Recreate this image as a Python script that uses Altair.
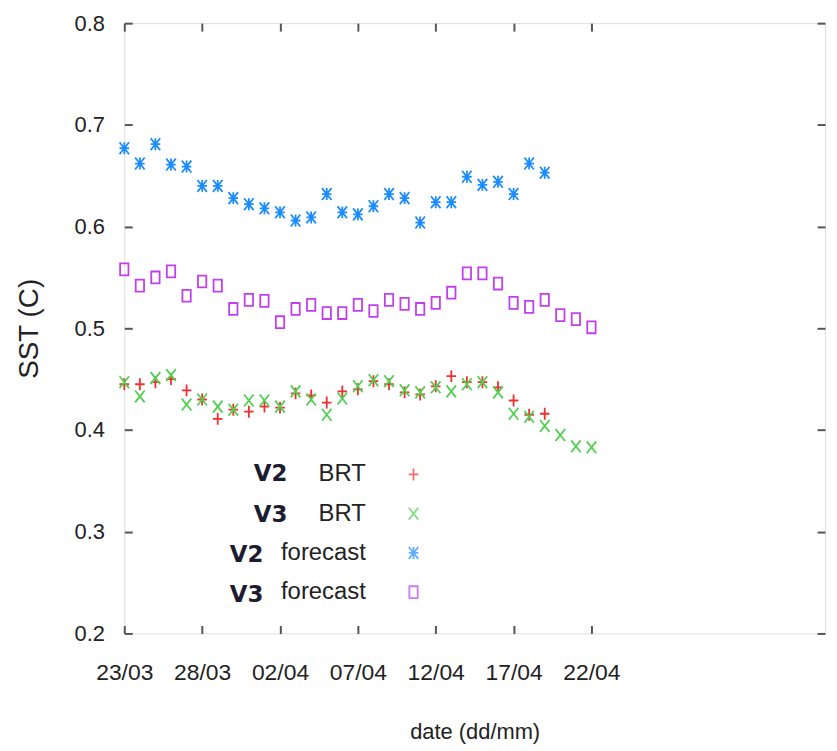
import altair as alt
import pandas as pd

# ---- data ----
start_date = "2014-03-23"
series_names = ["V2 BRT", "V3 BRT", "V2 forecast", "V3 forecast"]

v2_brt = [0.445, 0.445, 0.447, 0.450, 0.439, 0.430, 0.411, 0.420, 0.418, 0.423,
          0.422, 0.436, 0.434, 0.427, 0.438, 0.440, 0.448, 0.445, 0.437, 0.435,
          0.443, 0.453, 0.447, 0.447, 0.442, 0.429, 0.415, 0.416]
v3_brt = [0.447, 0.433, 0.451, 0.454, 0.425, 0.430, 0.423, 0.420, 0.429, 0.429,
          0.423, 0.438, 0.430, 0.415, 0.431, 0.443, 0.449, 0.448, 0.439, 0.437,
          0.442, 0.438, 0.445, 0.447, 0.437, 0.416, 0.413, 0.404, 0.395, 0.384,
          0.383]
v2_fc = [0.677, 0.662, 0.681, 0.661, 0.659, 0.640, 0.640, 0.628, 0.622, 0.618,
         0.614, 0.606, 0.609, 0.632, 0.614, 0.612, 0.620, 0.632, 0.628, 0.604,
         0.624, 0.624, 0.649, 0.641, 0.644, 0.632, 0.662, 0.653]
v3_fc = [0.558, 0.542, 0.550, 0.556, 0.532, 0.546, 0.542, 0.519, 0.528, 0.527,
         0.506, 0.519, 0.523, 0.515, 0.515, 0.523, 0.517, 0.528, 0.524, 0.519,
         0.525, 0.535, 0.554, 0.554, 0.544, 0.525, 0.521, 0.528, 0.513, 0.509,
         0.501]

x_tick_dates = ["2014-03-23", "2014-03-28", "2014-04-02", "2014-04-07",
                "2014-04-12", "2014-04-17", "2014-04-22"]
x_domain = ["2014-03-23", "2014-05-07"]
y_ticks = [0.2, 0.3, 0.4, 0.5, 0.6, 0.7, 0.8]

colors = ["#f03030", "#50d050", "#1a8cff", "#c040f0"]
shapes = [
    "M-0.8,0H0.8M0,-1V1",
    "M-0.8,-1L0.8,1M-0.8,1L0.8,-1",
    "M-0.8,0H0.8M0,-1V1M-0.8,-1L0.8,1M-0.8,1L0.8,-1",
    "M-0.7,-1H0.7V1H-0.7Z",
]

dates = pd.date_range(start_date, periods=31, freq="D").strftime("%Y-%m-%d").tolist()
rows = []
for name, vals in zip(series_names, [v2_brt, v3_brt, v2_fc, v3_fc]):
    for d, v in zip(dates, vals):
        rows.append({"date": d, "value": v, "series": name, "kind": name,
                     "ver": name, "ver2": name})
df = pd.DataFrame(rows)


def dt(s):
    y, m, d = (int(p) for p in s.split("-"))
    return alt.DateTime(year=y, month=m, date=d, utc=True)


FONT = "Liberation Sans, Arial"
TXT = "#222222"
NBSP = "\u00a0"

x_scale = alt.Scale(type="utc", domain=[dt(s) for s in x_domain], nice=False)
y_scale = alt.Scale(domain=[0.2, 0.8], nice=False, zero=False)

tick_common = dict(offset=-8, tickSize=8, domain=False, grid=False,
                   tickColor="#555555", tickWidth=2)

x_axis = alt.Axis(orient="bottom", values=[dt(s) for s in x_tick_dates], format="%d/%m",
                  labelPadding=28, labelFont=FONT, labelFontSize=23, labelColor=TXT,
                  labelFlush=False, title="date (dd/mm)", titleFont=FONT,
                  titleFontSize=22, titleFontWeight="normal", titleColor=TXT,
                  titlePadding=38, **tick_common)
y_axis = alt.Axis(orient="left", values=y_ticks, format=".1f", labelPadding=20,
                  labelFont=FONT, labelFontSize=22, labelColor=TXT, labelFlush=False,
                  title="SST (C)", titleFont=FONT, titleFontSize=28,
                  titleFontWeight="normal", titleColor=TXT, titlePadding=31,
                  **tick_common)
x_axis_top = alt.Axis(orient="top", values=[dt(s) for s in x_tick_dates], labels=False,
                      title=None, **tick_common)
y_axis_right = alt.Axis(orient="right", values=y_ticks, labels=False, title=None,
                        **tick_common)

hidden_symbols = dict(symbolOpacity=0, symbolStrokeColor="transparent",
                      symbolFillColor="transparent")

# legend A: coloured symbols only
symbol_legend = alt.Legend(
    orient="none", legendX=278, legendY=441, title=None, padding=0,
    labelExpr="'" + NBSP + "'", labelFontSize=26, symbolSize=144,
    symbolStrokeWidth=1.8, rowPadding=13.5,
)
# legend B: "BRT" / "forecast", right-aligned
kind_legend = alt.Legend(
    orient="none", legendX=219, legendY=442, title=None, padding=0,
    labelExpr="split(datum.label, ' ')[1]", labelAlign="right", labelOffset=0,
    labelFont=FONT, labelFontSize=24, labelColor=TXT, rowPadding=15.5,
    **hidden_symbols,
)
# legend C1 / C2: bold "V2" / "V3" for the BRT rows and the forecast rows
ver_common = dict(orient="none", title=None, padding=0, labelAlign="right", labelOffset=0,
                  labelFont="DejaVu Sans", labelFontWeight="bold", labelFontSize=23,
                  labelColor="#1c1c30", rowPadding=16.5, **hidden_symbols)
ver_legend_brt = alt.Legend(
    legendX=141, legendY=442.5,
    labelExpr="indexof(datum.label, 'BRT') >= 0 ? split(datum.label, ' ')[0] : '" + NBSP + "'",
    **ver_common,
)
ver_legend_fc = alt.Legend(
    legendX=117, legendY=442.5,
    labelExpr="indexof(datum.label, 'forecast') >= 0 ? split(datum.label, ' ')[0] : '" + NBSP + "'",
    **ver_common,
)

points = alt.Chart(df).mark_point(filled=False, strokeWidth=1.8).encode(
    x=alt.X("date:T", scale=x_scale, axis=x_axis),
    y=alt.Y("value:Q", scale=y_scale, axis=y_axis),
    color=alt.Color("series:N", sort=series_names,
                    scale=alt.Scale(domain=series_names, range=colors), legend=symbol_legend),
    shape=alt.Shape("series:N", sort=series_names,
                    scale=alt.Scale(domain=series_names, range=shapes), legend=symbol_legend),
    opacity=alt.Opacity("kind:O", sort=series_names,
                        scale=alt.Scale(range=[1, 1]), legend=kind_legend),
    size=alt.Size("ver:O", sort=series_names,
                  scale=alt.Scale(range=[144, 144]), legend=ver_legend_brt),
    strokeWidth=alt.StrokeWidth("ver2:O", sort=series_names,
                                scale=alt.Scale(range=[1.8, 1.8]), legend=ver_legend_fc),
)

mirror = alt.Chart(df).mark_point(opacity=0).encode(
    x=alt.X("date:T", scale=x_scale, axis=x_axis_top),
    y=alt.Y("value:Q", scale=y_scale, axis=y_axis_right),
)

chart = alt.layer(points, mirror).resolve_axis(x="independent", y="independent").properties(
    width=705, height=614,
    padding={"left": 117, "top": 13, "right": 4, "bottom": 113},
    autosize=alt.AutoSizeParams(type="none"),
).configure_view(stroke="#444444", strokeWidth=2).configure(background="white")

chart.save("out.html", embed_options={"renderer": "svg", "actions": False})
